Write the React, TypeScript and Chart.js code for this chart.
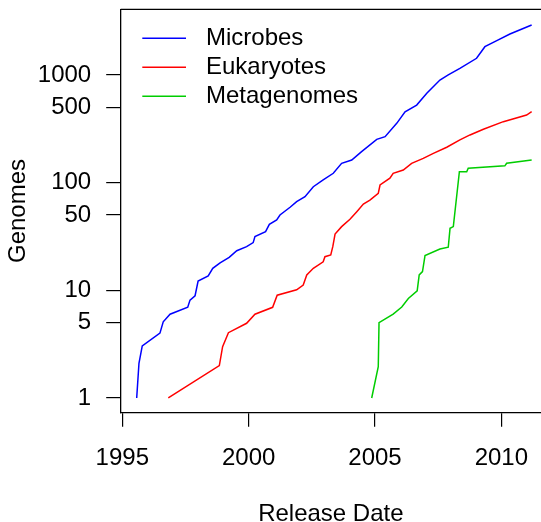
import { useEffect, useRef } from "react";
import { Chart, registerables } from "chart.js";

Chart.register(...registerables);

const microbesYears = [
  1995.57, 1995.66, 1995.79, 1996.49, 1996.62, 1996.89, 1997.59, 1997.68, 1997.88, 1998.0,
  1998.4, 1998.58, 1998.87, 1999.23, 1999.53, 1999.92, 2000.18, 2000.25, 2000.67, 2000.82,
  2001.11, 2001.24, 2001.64, 2001.9, 2002.23, 2002.56, 2002.95, 2003.35, 2003.68, 2004.08,
  2004.47, 2005.07, 2005.4, 2005.86, 2006.19, 2006.65, 2007.05, 2007.57, 2007.9, 2008.36,
  2009.02, 2009.35, 2009.82, 2010.34, 2011.2,
];
const microbesCounts = [
  1, 2.1, 3.04, 4, 5.1, 6.0, 6.95, 8.1, 8.9, 12.2,
  13.6, 16, 18, 20.2, 23.3, 25.4, 27.7, 31.5, 35, 41,
  45, 50, 59, 66.5, 74, 91.6, 106, 122, 151, 162,
  194, 252, 267, 355, 455, 525, 675, 897, 1000, 1151,
  1426, 1828, 2080, 2400, 2904,
];

const eukaryotesYears = [
  1996.82, 1998.84, 1998.97, 1999.2, 1999.92, 2000.25, 2000.95, 2001.13, 2001.9, 2002.16,
  2002.3, 2002.56, 2002.95, 2003.02, 2003.25, 2003.33, 2003.42, 2003.68, 2004.01, 2004.28,
  2004.54, 2004.8, 2005.13, 2005.2, 2005.59, 2005.72, 2006.12, 2006.45, 2006.91, 2007.31,
  2007.84, 2008.36, 2008.76, 2009.29, 2010.08, 2011.0, 2011.2,
];
const eukaryotesCounts = [
  1, 2.0, 3.0, 4.04, 4.94, 6.0, 6.95, 9.0, 10.1, 11.2,
  13.9, 16, 18.4, 20.5, 21.3, 25.4, 33.3, 39, 45.6, 53.7,
  63.3, 68.9, 79.5, 95, 110, 122, 131, 151, 168, 187,
  213, 249, 277, 313, 368, 424, 455,
];

const metagenomesYears = [
  2004.87, 2005.13, 2005.16, 2005.72, 2006.06, 2006.32, 2006.67, 2006.75, 2006.88, 2006.98,
  2007.57, 2007.9, 2007.97, 2008.1, 2008.34, 2008.63, 2008.69, 2010.14, 2010.21, 2011.2,
];
const metagenomesCounts = [
  1, 1.95, 5.0, 6.0, 7.0, 8.4, 9.9, 13.9, 14.9, 21,
  24.2, 25.1, 37.6, 39, 126, 126, 136, 143, 151, 162,
];

const xTickYears = [1995, 2000, 2005, 2010];
const yTickValues = [1, 5, 10, 50, 100, 500, 1000];
const seriesNames = ["Microbes", "Eukaryotes", "Metagenomes"];
const seriesColors = ["#0000FF", "#FF0000", "#00CD00"];
const xTitle = "Release Date";
const yTitle = "Genomes";

const FONT = "'Liberation Sans', Arial, Helvetica, sans-serif";

export default function App() {
  const ref = useRef<HTMLCanvasElement>(null);

  useEffect(() => {
    document.body.style.margin = "0";
    const canvas = ref.current;
    if (!canvas) return;

    const toPts = (xs: number[], ys: number[]) => xs.map((x, i) => ({ x, y: ys[i] }));
    const allYears = [microbesYears, eukaryotesYears, metagenomesYears];
    const allCounts = [microbesCounts, eukaryotesCounts, metagenomesCounts];

    const boxPlugin = {
      id: "topBox",
      afterDraw(chart: any) {
        const { ctx, chartArea } = chart;
        ctx.save();
        ctx.strokeStyle = "#000";
        ctx.lineWidth = 1.3;
        ctx.beginPath();
        ctx.moveTo(chartArea.left, chartArea.top);
        ctx.lineTo(chartArea.right + 2, chartArea.top);
        ctx.stroke();
        ctx.restore();
      },
    };

    const legendPlugin = {
      id: "rLegend",
      afterDraw(chart: any) {
        const { ctx, chartArea } = chart;
        ctx.save();
        ctx.font = `24px ${FONT}`;
        ctx.textBaseline = "middle";
        ctx.textAlign = "left";
        seriesNames.forEach((name, i) => {
          const y = chartArea.top + 29 + i * 29;
          ctx.strokeStyle = seriesColors[i];
          ctx.lineWidth = 1.5;
          ctx.beginPath();
          ctx.moveTo(chartArea.left + 21.6, y);
          ctx.lineTo(chartArea.left + 65.3, y);
          ctx.stroke();
          ctx.fillStyle = "#000";
          ctx.fillText(name, chartArea.left + 85.3, y);
        });
        ctx.restore();
      },
    };

    const chart = new Chart(canvas, {
      type: "line",
      data: {
        datasets: seriesNames.map((name, i) => ({
          label: name,
          data: toPts(allYears[i], allCounts[i]),
          borderColor: seriesColors[i],
          backgroundColor: seriesColors[i],
          borderWidth: 1.5,
          pointRadius: 0,
          tension: 0,
          fill: false,
        })),
      },
      options: {
        animation: false,
        responsive: true,
        maintainAspectRatio: false,
        parsing: false as any,
        layout: { padding: { top: 9.3, left: 0, right: 0, bottom: 0 } },
        plugins: {
          legend: { display: false },
          tooltip: { enabled: false },
        },
        scales: {
          x: {
            type: "linear",
            bounds: "data",
            min: 1994.937,
            max: 2011.57,
            afterBuildTicks: (s: any) => {
              s.ticks = xTickYears.map((v) => ({ value: v }));
            },
            afterFit: (s: any) => {
              s.height = 109.3;
              s.paddingLeft = 0;
              s.paddingRight = 0;
            },
            ticks: {
              color: "#000",
              font: { family: FONT, size: 24 },
              padding: 17.5,
              maxRotation: 0,
              autoSkip: false,
              callback: (v: any) => String(v),
            },
            grid: {
              drawOnChartArea: false,
              drawTicks: true,
              tickLength: 14,
              color: "#000",
              lineWidth: 1.2,
            },
            border: { display: true, color: "#000", width: 1.3 },
            title: {
              display: true,
              text: xTitle,
              color: "#000",
              font: { family: FONT, size: 24, lineHeight: 0.675 },
              padding: 0,
            },
          },
          y: {
            type: "logarithmic",
            bounds: "data",
            min: 0.73,
            max: 4066,
            afterBuildTicks: (s: any) => {
              s.ticks = yTickValues.map((v) => ({ value: v }));
            },
            afterFit: (s: any) => {
              s.width = 120.7;
              s.paddingTop = 0;
              s.paddingBottom = 0;
            },
            ticks: {
              color: "#000",
              font: { family: FONT, size: 24 },
              padding: 15,
              autoSkip: false,
              callback: (v: any) => String(v),
            },
            grid: {
              drawOnChartArea: false,
              drawTicks: true,
              tickLength: 14.5,
              color: "#000",
              lineWidth: 1.2,
            },
            border: { display: true, color: "#000", width: 1.3 },
            title: {
              display: true,
              text: yTitle,
              color: "#000",
              font: { family: FONT, size: 24, lineHeight: 1.2 },
              padding: { top: 4.3, bottom: 0 },
            },
          },
        },
      },
      plugins: [boxPlugin, legendPlugin],
    } as any);

    return () => chart.destroy();
  }, []);

  return (
    <div style={{ position: "absolute", left: 0, top: 0, width: 541, height: 522 }}>
      <canvas ref={ref} />
    </div>
  );
}
